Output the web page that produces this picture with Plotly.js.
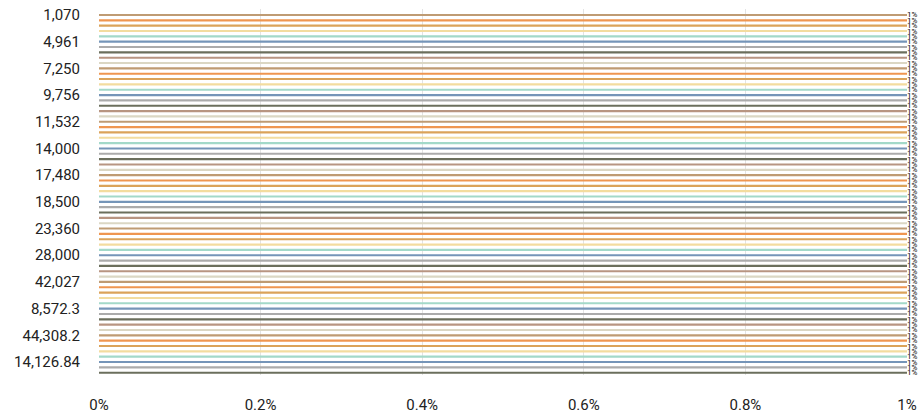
<!DOCTYPE html>
<html>
<head>
<meta charset="utf-8">
<script src="https://cdn.plot.ly/plotly-3.0.1.min.js"></script>
<style>html,body{margin:0;padding:0;background:#fff;}#chart{width:921px;height:414px;}</style>
</head>
<body>
<div id="chart"></div>
<script>
const categories = [
  "1,070","1,500","2,400","3,200","4,200",
  "4,961","5,400","6,000","6,500","7,000",
  "7,250","7,800","8,400","9,000","9,500",
  "9,756","10,000","10,500","11,000","11,300",
  "11,532","12,000","12,500","13,000","13,500",
  "14,000","14,500","15,000","16,000","17,000",
  "17,480","17,600","17,800","18,000","18,200",
  "18,500","19,000","20,000","21,000","22,000",
  "23,360","24,000","25,000","26,000","27,000",
  "28,000","30,000","32,000","35,000","38,000",
  "42,027","45,000","50,000","5,512.5","6,830.7",
  "8,572.3","12,845.6","21,930.4","31,250.8","36,720.5",
  "44,308.2","9,841.75","16,302.9","27,455.1","38,906.4",
  "14,126.84","22,615.37","33,480.92"
];
const values = [
  1,1,1,1,1, 1,1,1,1,1, 1,1,1,1,1, 1,1,1,1,1,
  1,1,1,1,1, 1,1,1,1,1, 1,1,1,1,1, 1,1,1,1,1,
  1,1,1,1,1, 1,1,1,1,1, 1,1,1,1,1, 1,1,1,1,1,
  1,1,1,1,1, 1,1,1
];
const palette = ["#bf9b73","#ef9650","#dba35a","#f3dc9f","#a3d9c9","#7595b8","#ababab","#6b6f5d","#b89582","#dbd7c4"];
const xTickVals = [0, 0.2, 0.4, 0.6, 0.8, 1];

const barColors = categories.map((c, i) => palette[i % palette.length]);

const trace = {
  type: "bar",
  orientation: "h",
  y: categories,
  x: values,
  marker: {color: barColors},
  text: values.map(v => v + "%"),
  textposition: "outside",
  constraintext: "none",
  textfont: {color: "#000", family: "Roboto", size: 8},
  cliponaxis: false,
  hoverinfo: "none"
};

const layout = {
  width: 921,
  height: 414,
  margin: {l: 99, r: 14, t: 9, b: 39},
  paper_bgcolor: "#fff",
  plot_bgcolor: "#fff",
  showlegend: false,
  bargap: 0.6,
  font: {family: "Roboto, sans-serif", size: 15, color: "#222"},
  xaxis: {
    range: [0, 1],
    tickvals: xTickVals,
    ticktext: xTickVals.map(v => v + "%"),
    showgrid: true,
    gridcolor: "#e3e3e3",
    gridwidth: 1,
    zeroline: false,
    showline: false,
    ticks: "",
    ticklabelstandoff: 19,
    tickfont: {size: 15, color: "#222"}
  },
  yaxis: {
    type: "category",
    range: [67.43, -1.12],
    tickmode: "linear",
    tick0: 0,
    dtick: 5,
    showgrid: false,
    zeroline: false,
    showline: false,
    ticks: "",
    ticklabelstandoff: 18,
    tickfont: {size: 15, color: "#222"}
  }
};

Plotly.newPlot("chart", [trace], layout, {displayModeBar: false, staticPlot: true});
</script>
</body>
</html>
